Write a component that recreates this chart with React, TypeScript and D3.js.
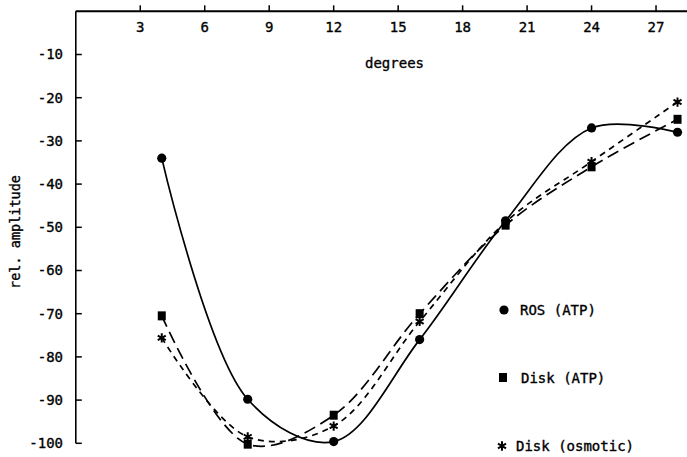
import React from "react";
import * as d3 from "d3";

const degrees = [4, 8, 12, 16, 20, 24, 28];
const rosATP = [-34, -89.8, -99.6, -76, -48.5, -27, -28];
const diskATP = [-70.5, -100.2, -93.5, -70, -49.5, -36, -25];
const diskOsmotic = [-75.6, -98.5, -96, -71.8, -48.8, -34.8, -21];
const xTicks = [3, 6, 9, 12, 15, 18, 21, 24, 27];
const yTicks = [-10, -20, -30, -40, -50, -60, -70, -80, -90, -100];

const W = 687;
const H = 457;
const FONT = "'DejaVu Sans Mono', monospace";

export default function App() {
  const x = d3.scaleLinear().domain([0, 28]).range([75.8, 75.8 + 28 * 21.49]);
  const y = d3.scaleLinear().domain([0, -100]).range([11.3, 443.3]);
  const line = d3
    .line<number>()
    .x((_, i) => x(degrees[i]))
    .y((d) => y(d))
    .curve(d3.curveCatmullRom.alpha(0.5));
  const star = d3.symbol(d3.symbolAsterisk, 60)();
  const left = x(0);
  const top = y(0);
  const txt = { stroke: "#000", strokeWidth: 0.35 };

  return (
    <svg
      width={W}
      height={H}
      style={{ position: "absolute", left: 0, top: 0, background: "#fff" }}
      fontFamily={FONT}
    >
      <rect width={W} height={H} fill="#fff" />
      {/* axes */}
      <line x1={left} x2={W} y1={top} y2={top} stroke="#000" strokeWidth={2} />
      <line x1={left} x2={left} y1={top} y2={y(-100)} stroke="#000" strokeWidth={1.6} />
      {xTicks.map((t) => (
        <g key={"xt" + t}>
          <line x1={x(t)} x2={x(t)} y1={top} y2={top - 6} stroke="#000" strokeWidth={1.5} />
          <text x={x(t)} y={32} textAnchor="middle" fontSize={14} {...txt}>
            {t}
          </text>
        </g>
      ))}
      {yTicks.map((t) => (
        <g key={"yt" + t}>
          <line x1={left} x2={left + 6} y1={y(t)} y2={y(t)} stroke="#000" strokeWidth={1.5} />
          <text x={63} y={y(t)} dy="0.35em" textAnchor="end" fontSize={14} {...txt}>
            {t}
          </text>
        </g>
      ))}
      <text x={365} y={68} fontSize={14} {...txt}>
        degrees
      </text>
      <text
        transform={`translate(20,232) rotate(-90)`}
        textAnchor="middle"
        fontSize={13.5}
        {...txt}
      >
        rel. amplitude
      </text>

      {/* curves */}
      <path d={line(rosATP) || ""} fill="none" stroke="#000" strokeWidth={1.7} />
      <path d={line(diskATP) || ""} fill="none" stroke="#000" strokeWidth={1.7} strokeDasharray="12,6" />
      <path d={line(diskOsmotic) || ""} fill="none" stroke="#000" strokeWidth={1.7} strokeDasharray="6,5" />

      {/* markers */}
      {rosATP.map((v, i) => (
        <circle key={"c" + i} cx={x(degrees[i])} cy={y(v)} r={4.6} fill="#000" />
      ))}
      {diskATP.map((v, i) => (
        <rect key={"s" + i} x={x(degrees[i]) - 4} y={y(v) - 4.5} width={8} height={9} fill="#000" />
      ))}
      {diskOsmotic.map((v, i) => (
        <path
          key={"a" + i}
          d={star || ""}
          transform={`translate(${x(degrees[i])},${y(v)})`}
          fill="#000"
          stroke="#000"
          strokeWidth={2}
        />
      ))}

      {/* legend */}
      <circle cx={504} cy={310} r={4.6} fill="#000" />
      <text x={520} y={310} dy="0.35em" fontSize={14} {...txt}>
        ROS (ATP)
      </text>
      <rect x={499} y={373} width={8} height={9} fill="#000" />
      <text x={521} y={378} dy="0.35em" fontSize={14} {...txt}>
        Disk (ATP)
      </text>
      <path d={star || ""} transform="translate(502,446)" fill="#000" stroke="#000" strokeWidth={2} />
      <text x={516} y={446} dy="0.35em" fontSize={14} {...txt}>
        Disk (osmotic)
      </text>
    </svg>
  );
}
